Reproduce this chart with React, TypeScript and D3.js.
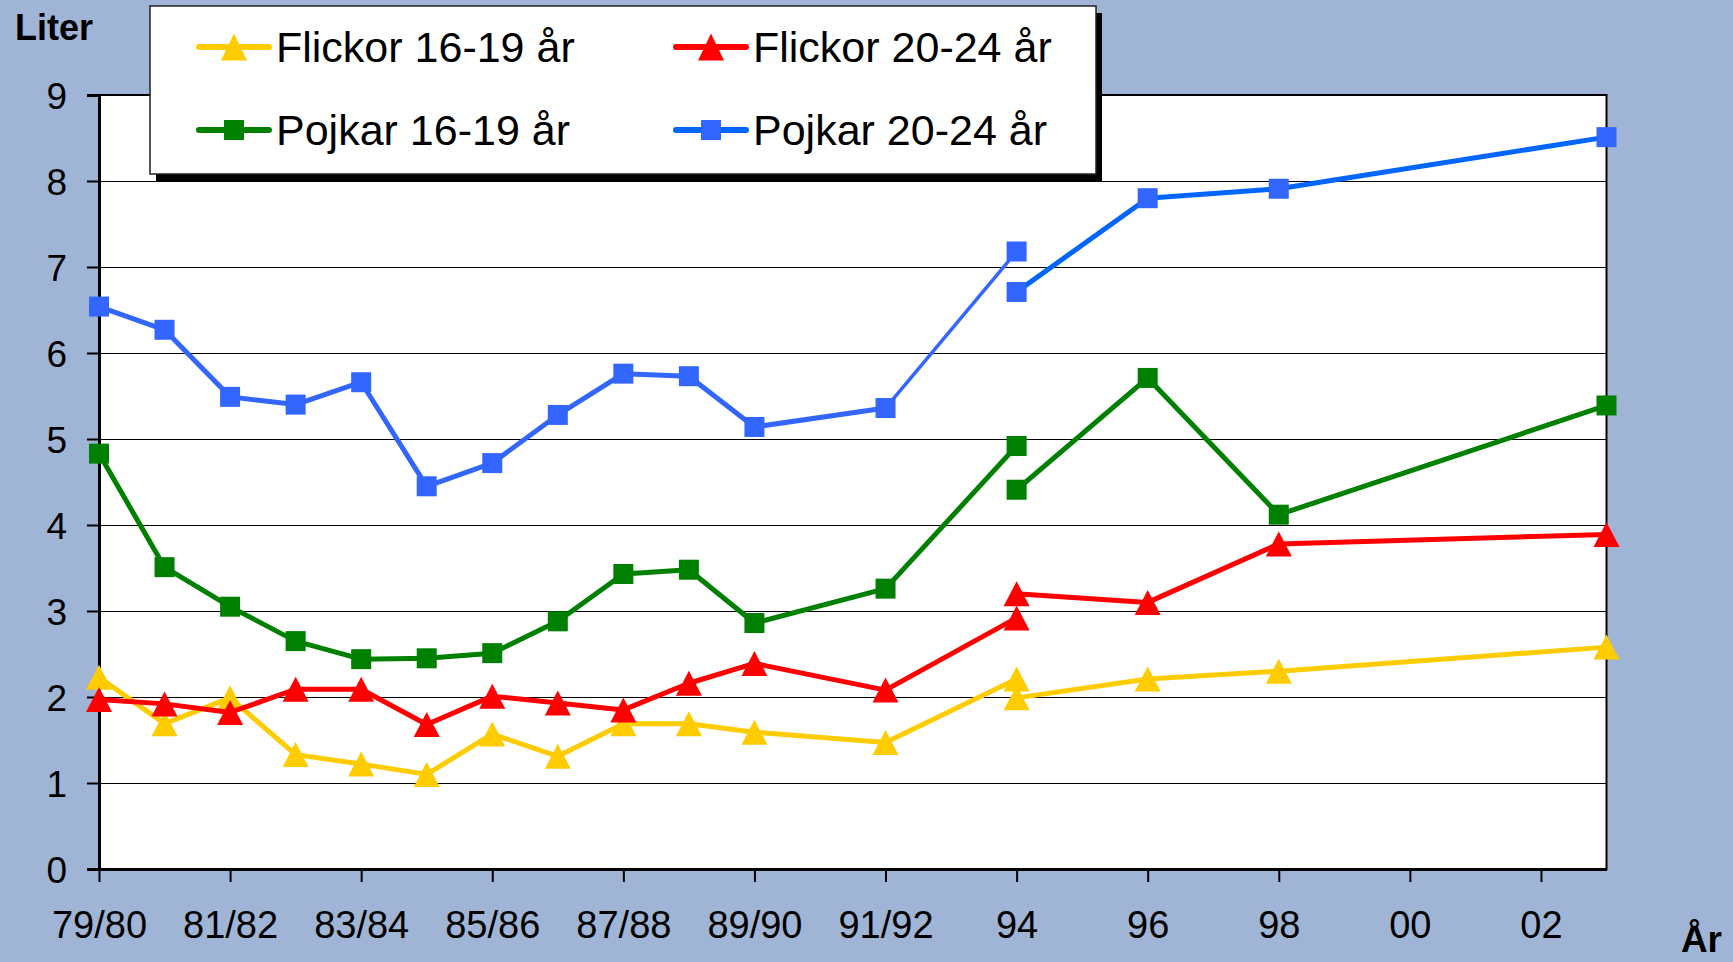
import React, { useRef, useEffect } from "react";
import * as d3 from "d3";

// slots along the x axis (half-step spacing), ticks every second slot
const slots = [
  "79/80", "80/81", "81/82", "82/83", "83/84", "84/85", "85/86", "86/87",
  "87/88", "88/89", "89/90", "90/91", "91/92", "93", "94", "95", "96", "97",
  "98", "99", "00", "01", "02", "03",
];
const tickLabels = ["79/80", "81/82", "83/84", "85/86", "87/88", "89/90", "91/92", "94", "96", "98", "00", "02"];
const yTicks = [0, 1, 2, 3, 4, 5, 6, 7, 8, 9];

// old survey series ends at 94, the new one starts at 94
const periodsOld = ["79/80", "80/81", "81/82", "82/83", "83/84", "84/85", "85/86", "86/87", "87/88", "88/89", "89/90", "91/92", "94"];
const periodsNew = ["94", "96", "98", "03"];

const flickor1619Old = [2.23, 1.69, 1.99, 1.33, 1.22, 1.1, 1.57, 1.31, 1.69, 1.69, 1.59, 1.47, 2.21];
const flickor1619New = [1.99, 2.21, 2.3, 2.58];
const flickor2024Old = [1.97, 1.92, 1.82, 2.09, 2.09, 1.68, 2.01, 1.93, 1.85, 2.16, 2.39, 2.08, 2.92];
const flickor2024New = [3.2, 3.1, 3.78, 3.89];
const pojkar1619Old = [4.83, 3.51, 3.05, 2.65, 2.44, 2.45, 2.51, 2.88, 3.43, 3.48, 2.86, 3.26, 4.92];
const pojkar1619New = [4.41, 5.71, 4.12, 5.39];
const pojkar2024Old = [6.54, 6.27, 5.49, 5.4, 5.66, 4.45, 4.72, 5.28, 5.76, 5.73, 5.14, 5.36, 7.18];
const pojkar2024New = [6.71, 7.8, 7.91, 8.51];

const seriesNames = ["Flickor 16-19 år", "Flickor 20-24 år", "Pojkar 16-19 år", "Pojkar 20-24 år"];

const FONT = "'Liberation Sans', Arial, sans-serif";

export default function App() {
  const svgRef = useRef<SVGSVGElement>(null);

  useEffect(() => {
    const svg = d3.select(svgRef.current);
    svg.selectAll("*").remove();

    const width = 1733;
    const height = 962;
    const plot = { left: 99, right: 1606.5, top: 95, bottom: 869 };

    svg.attr("width", width).attr("height", height);

    svg.append("rect").attr("width", width).attr("height", height).attr("fill", "#a0b4d5");

    const x = d3.scalePoint<string>().domain(slots).range([plot.left, plot.right]);
    const y = d3.scaleLinear().domain([0, 9]).range([plot.bottom, plot.top]);

    // plot area
    svg.append("rect")
      .attr("x", plot.left).attr("y", plot.top)
      .attr("width", plot.right - plot.left).attr("height", plot.bottom - plot.top)
      .attr("fill", "#fff").attr("stroke", "#000").attr("stroke-width", 2);

    // gridlines
    svg.append("g").selectAll("line")
      .data(yTicks.filter((t) => t > 0 && t < 9))
      .join("line")
      .attr("x1", plot.left).attr("x2", plot.right)
      .attr("y1", (d) => y(d) + 0.5).attr("y2", (d) => y(d) + 0.5)
      .attr("stroke", "#000").attr("stroke-width", 1);

    // y axis
    const yAxis = svg.append("g").attr("transform", `translate(${plot.left},0)`)
      .call(d3.axisLeft(y).tickValues(yTicks).tickSize(12).tickPadding(20).tickFormat(d3.format("d")));
    yAxis.select(".domain").attr("stroke-width", 3);
    yAxis.selectAll(".tick line").attr("stroke-width", 2);
    yAxis.selectAll(".tick text")
      .attr("font-family", FONT).attr("font-size", 37).attr("fill", "#000").attr("dy", "0.36em");

    // x axis
    const xAxis = svg.append("g").attr("transform", `translate(0,${plot.bottom})`)
      .call(d3.axisBottom(x).tickValues(tickLabels).tickSize(13).tickSizeOuter(0).tickPadding(0));
    xAxis.select(".domain").attr("stroke-width", 3);
    xAxis.selectAll(".tick line").attr("stroke-width", 2);
    xAxis.selectAll(".tick text")
      .attr("font-family", FONT).attr("font-size", 38).attr("fill", "#000")
      .attr("y", 69).attr("dy", 0);

    // marker helpers
    const triangle = (cx: number, cy: number, w = 26, h = 25) => {
      const p = d3.path();
      p.moveTo(cx, cy - h / 2);
      p.lineTo(cx + w / 2, cy + h / 2);
      p.lineTo(cx - w / 2, cy + h / 2);
      p.closePath();
      return p.toString();
    };
    const square = (cx: number, cy: number, s = 20) => {
      const p = d3.path();
      p.rect(cx - s / 2, cy - s / 2, s, s);
      return p.toString();
    };

    const series = [
      { name: seriesNames[0], old: flickor1619Old, neu: flickor1619New, color: "#ffcc00", lineOld: "#ffcc00", lineNew: "#ffcc00", marker: "tri", bridge: 5 },
      { name: seriesNames[1], old: flickor2024Old, neu: flickor2024New, color: "#ff0000", lineOld: "#ff0000", lineNew: "#ff0000", marker: "tri", bridge: 5 },
      { name: seriesNames[2], old: pojkar1619Old, neu: pojkar1619New, color: "#008000", lineOld: "#008000", lineNew: "#008000", marker: "sq", bridge: 5 },
      { name: seriesNames[3], old: pojkar2024Old, neu: pojkar2024New, color: "#3366ff", lineOld: "#3366ff", lineNew: "#0066ff", marker: "sq", bridge: 3.5 },
    ];

    const line = d3.line<[string, number]>()
      .x((d) => x(d[0]) as number)
      .y((d) => y(d[1]));

    const gSeries = svg.append("g");
    series.forEach((s) => {
      const oldPts: [string, number][] = periodsOld.map((p, i) => [p, s.old[i]]);
      const newPts: [string, number][] = periodsNew.map((p, i) => [p, s.neu[i]]);
      const g = gSeries.append("g");
      const n = oldPts.length;
      // bridge 91/92 -> 94
      g.append("path").datum(oldPts.slice(n - 2))
        .attr("d", line).attr("fill", "none")
        .attr("stroke", s.lineOld).attr("stroke-width", s.bridge).attr("stroke-linejoin", "round");
      g.append("path").datum(oldPts.slice(0, n - 1))
        .attr("d", line).attr("fill", "none")
        .attr("stroke", s.lineOld).attr("stroke-width", 5).attr("stroke-linejoin", "round");
      g.append("path").datum(newPts)
        .attr("d", line).attr("fill", "none")
        .attr("stroke", s.lineNew).attr("stroke-width", 5).attr("stroke-linejoin", "round");
      g.selectAll("path.mk")
        .data([...oldPts, ...newPts])
        .join("path")
        .attr("class", "mk")
        .attr("d", (d) => {
          const cx = x(d[0]) as number;
          const cy = y(d[1]);
          return s.marker === "tri" ? triangle(cx, cy) : square(cx, cy);
        })
        .attr("fill", s.color);
    });

    // legend
    const lg = { x: 150, y: 6, w: 946, h: 168 };
    svg.append("rect").attr("x", lg.x + 6).attr("y", lg.y + 7).attr("width", lg.w).attr("height", lg.h).attr("fill", "#000");
    svg.append("rect").attr("x", lg.x).attr("y", lg.y).attr("width", lg.w).attr("height", lg.h)
      .attr("fill", "#fff").attr("stroke", "#222").attr("stroke-width", 1.5);

    const cols = [199, 676];
    const rows = [47, 130];
    series.forEach((s, i) => {
      const lx = cols[i % 2];
      const ly = rows[Math.floor(i / 2)];
      const g = svg.append("g");
      g.append("line").attr("x1", lx).attr("x2", lx + 70).attr("y1", ly).attr("y2", ly)
        .attr("stroke", s.lineNew).attr("stroke-width", 6).attr("stroke-linecap", "round");
      g.append("path")
        .attr("d", s.marker === "tri" ? triangle(lx + 35, ly, 26, 27) : square(lx + 35, ly, 20))
        .attr("fill", s.color);
      g.append("text").attr("x", lx + 77).attr("y", ly).attr("dy", "0.36em")
        .attr("font-family", FONT).attr("font-size", 43).attr("fill", "#000")
        .text(s.name);
    });

    // axis titles
    svg.append("text").attr("x", 15).attr("y", 40)
      .attr("font-family", FONT).attr("font-size", 36).attr("font-weight", "bold").text("Liter");
    svg.append("text").attr("x", 1722).attr("y", 952).attr("text-anchor", "end")
      .attr("font-family", FONT).attr("font-size", 37).attr("font-weight", "bold").text("År");
  }, []);

  return <svg ref={svgRef} style={{ position: "absolute", left: 0, top: 0, display: "block" }} />;
}
